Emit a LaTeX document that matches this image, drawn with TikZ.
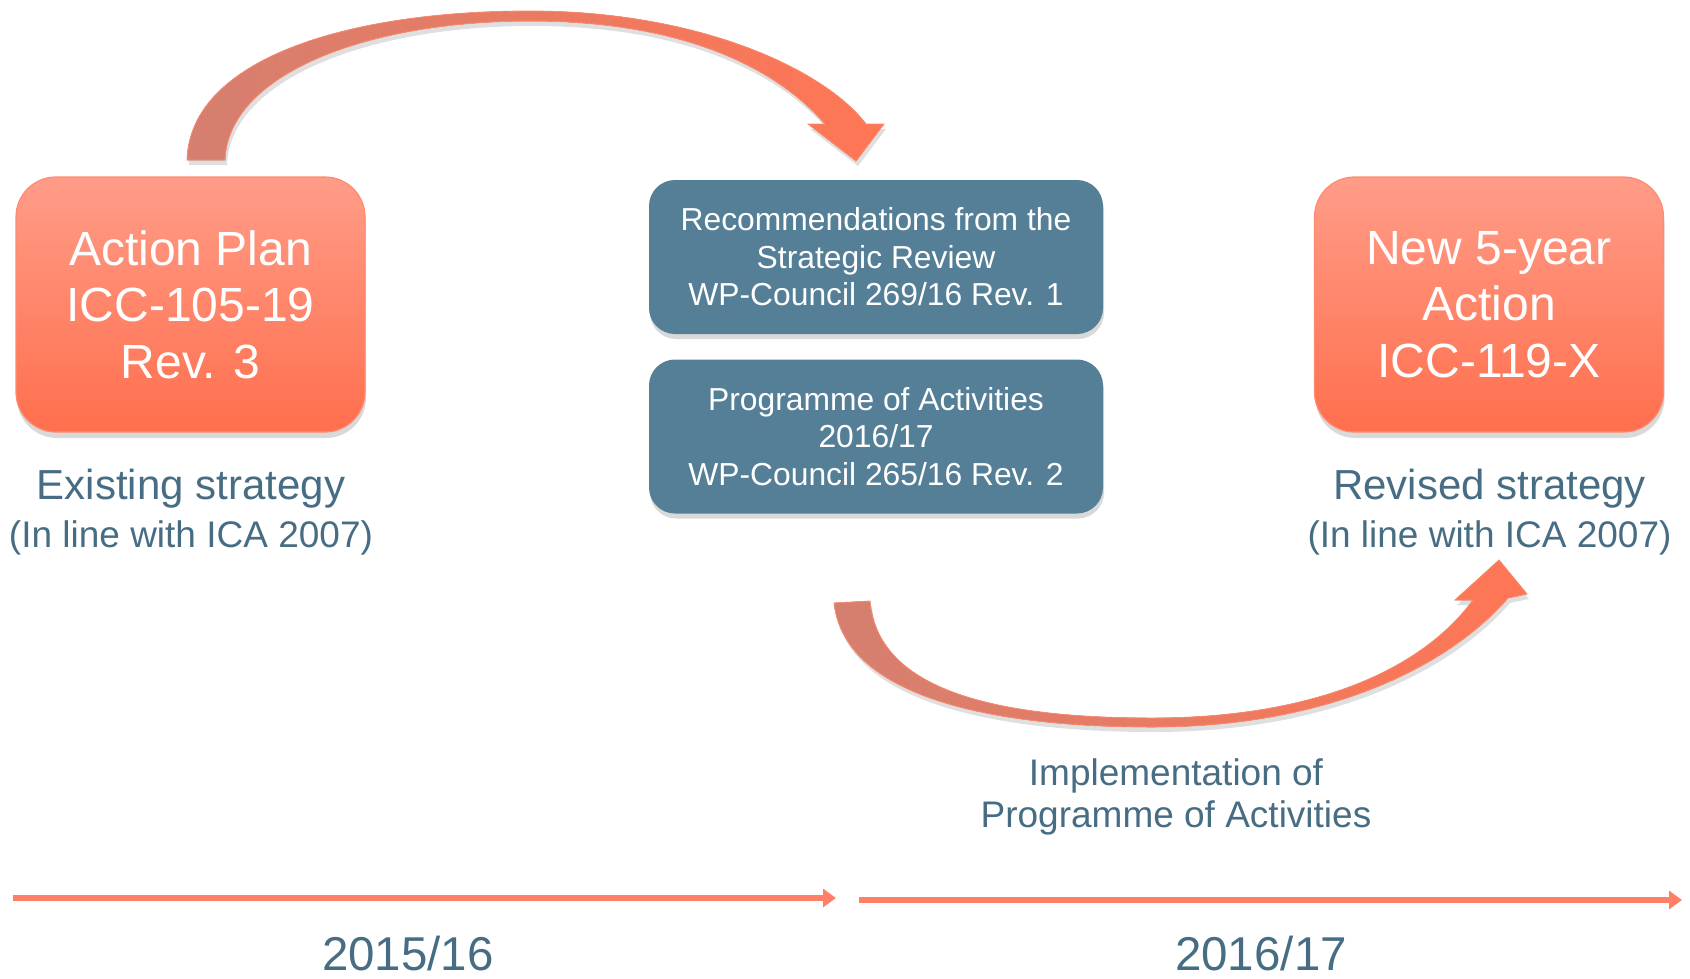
\documentclass[tikz,border=0pt]{standalone}
\usepackage{fontspec}
\setmainfont{Liberation Sans}
\usetikzlibrary{calc,arrows.meta,shadows}
\definecolor{planTop}{HTML}{FF9C88}
\definecolor{planBot}{HTML}{FF6F4D}
\definecolor{planLine}{HTML}{FF8A70}
\definecolor{slate}{HTML}{547F96}
\definecolor{slateText}{HTML}{476D84}
\definecolor{arcLeft}{HTML}{D57F70}
\definecolor{arcRight}{HTML}{FF7654}
\definecolor{timeLine}{HTML}{FF8066}

\begin{document}
\begin{tikzpicture}[x=1pt,y=-1pt,
	plan/.style={rectangle,rounded corners=40pt,draw=planLine,line width=1.2pt,
		top color=planTop,bottom color=planBot,text=white,align=center,
		minimum width=349pt,minimum height=255pt,
		font=\fontsize{48}{56.5}\selectfont,
		drop shadow={shadow xshift=1pt,shadow yshift=-6pt,opacity=.3}},
	review/.style={rectangle,rounded corners=26pt,fill=slate,text=white,align=center,
		minimum width=454pt,minimum height=154pt,
		font=\fontsize{31.8}{37.5}\selectfont,
		drop shadow={shadow xshift=1pt,shadow yshift=-5pt,opacity=.3}},
	caption/.style={text=slateText,align=center,font=\fontsize{37}{48}\selectfont},
	curvy/.style={left color=arcLeft,right color=arcRight,draw=arcRight!85!white,line width=.8pt,
		drop shadow={shadow xshift=2pt,shadow yshift=-5pt,opacity=.25}},
	timeline/.style={draw=timeLine,line width=6pt,arrows={-Triangle[length=13pt,width=18pt]},
		drop shadow={shadow xshift=1pt,shadow yshift=-4pt,opacity=.2}},
	year/.style={text=slateText,inner sep=0pt,font=\fontsize{47.5}{50}\selectfont}]
	\useasboundingbox (0,0) rectangle (1690,978);
	% boxes
	\node[plan] (plan) at (190.5,304.5) {Action Plan\\ICC-105-19\\Rev. 3};
	\node[plan] (newplan) at (1489,304.5) {New 5-year\\Action\\ICC-119-X};
	\node[review] (recs) at (876,257) {Recommendations from the\\Strategic Review\\WP-Council 269/16 Rev. 1};
	\node[review] (prog) at ($ (recs) + (0,179.5) $) {Programme of Activities\\2016/17\\WP-Council 265/16 Rev. 2};
	% captions
	\node[caption] (exist) at (191,512) {{\fontsize{42}{48}\selectfont Existing strategy}\\(In line with ICA 2007)};
	\node[caption] (revised) at (1489.5,512) {{\fontsize{42}{48}\selectfont Revised strategy}\\(In line with ICA 2007)};
	\node[caption,font=\fontsize{37}{42}\selectfont] (impl) at (1176,797) {Implementation of\\Programme of Activities};
	% curved arrows
	\fill[curvy] (187,160) .. controls (190,60) and (345,11) .. (530,11)
		.. controls (700,11) and (825,70) .. (866,124)
		-- (884,124) -- (856,161) -- (808,124) -- (825,124)
		.. controls (780,72) and (690,21) .. (530,21)
		.. controls (365,21) and (228,75) .. (225,160) -- cycle;
	\fill[curvy] (834,603) .. controls (845,700) and (1000,727) .. (1152,727)
		.. controls (1330,727) and (1450,665) .. (1508,598)
		-- (1527,594) -- (1499,560) -- (1455,600) -- (1473,600)
		.. controls (1420,672) and (1310,718) .. (1152,718)
		.. controls (1000,718) and (878,692) .. (870,601) -- cycle;
	% timeline
	\coordinate (a1) at (13,898);
	\coordinate (a2) at (836,898);
	\coordinate (b1) at (859,900);
	\coordinate (b2) at (1682,900);
	\draw[timeline] (a1) -- (a2);
	\draw[timeline] (b1) -- (b2);
	\node[year] (y1) at (408,954) {2015/16};
	\node[year] (y2) at (1261,954) {2016/17};
\end{tikzpicture}
\end{document}
